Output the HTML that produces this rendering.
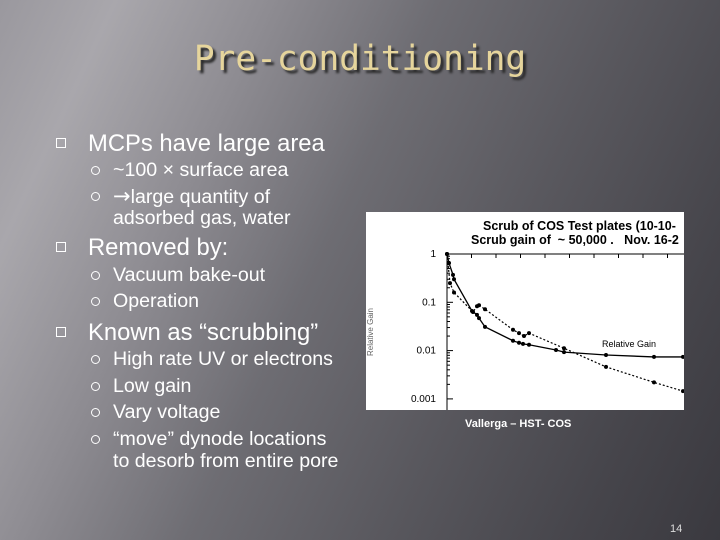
<!DOCTYPE html>
<html><head><meta charset="utf-8"><style>
html,body{margin:0;padding:0}
body{width:720px;height:540px;position:relative;overflow:hidden;font-family:"Liberation Sans",sans-serif;
background:linear-gradient(115deg,#9a989e 0%,#a9a7ac 12%,#8e8c92 28%,#6e6d73 45%,#59585e 65%,#46454b 85%,#3a393f 100%);}
.t{position:absolute;color:#fff;white-space:nowrap;line-height:1}
.l1{font-size:23.8px;left:88px}
.l2{font-size:19.6px;left:113px}
.sq{position:absolute;left:56px;width:8px;height:8px;border:1.5px solid #fff}
.ci{position:absolute;left:91px;width:7px;height:7px;border:1.5px solid #fff;border-radius:50%}
</style></head><body>
<div class="t" style="left:0;width:720px;text-align:center;top:42px;font-family:'DejaVu Sans Mono','DejaVu Sans',monospace;font-size:34.5px;color:#e6d59c;text-shadow:3px 3px 2px #2a2a2a">Pre-conditioning</div>

<div class="sq" style="top:138px"></div>
<div class="t l1" style="top:132px">MCPs have large area</div>
<div class="ci" style="top:166px"></div>
<div class="t l2" style="top:161px">~100 × surface area</div>
<div class="ci" style="top:192px"></div>
<div class="t l2" style="top:187px"><span style="font-family:'DejaVu Sans',sans-serif;font-size:21px;line-height:0.9">→</span>large quantity of</div>
<div class="t l2" style="top:209px">adsorbed gas, water</div>

<div class="sq" style="top:242px"></div>
<div class="t l1" style="top:236px">Removed by:</div>
<div class="ci" style="top:271px"></div>
<div class="t l2" style="top:266px">Vacuum bake-out</div>
<div class="ci" style="top:297px"></div>
<div class="t l2" style="top:292px">Operation</div>

<div class="sq" style="top:327px"></div>
<div class="t l1" style="top:321px">Known as “scrubbing”</div>
<div class="ci" style="top:355px"></div>
<div class="t l2" style="top:350px">High rate UV or electrons</div>
<div class="ci" style="top:382px"></div>
<div class="t l2" style="top:377px">Low gain</div>
<div class="ci" style="top:408px"></div>
<div class="t l2" style="top:403px">Vary voltage</div>
<div class="ci" style="top:435px"></div>
<div class="t l2" style="top:430px">“move” dynode locations</div>
<div class="t l2" style="top:452px">to desorb from entire pore</div>

<svg id="chart" style="position:absolute;left:366px;top:212px" width="318" height="198"></svg>

<div class="t" style="left:465px;top:419px;font-size:11px;font-weight:bold">Vallerga – HST- COS</div>
<div class="t" style="left:670px;top:524px;font-size:11px;color:#ddd">14</div>

<script>
const solidX=[0,2,6,7,25,30,32,38,66,72,76,82,109,117,159,207,236];
const solidY=[1,0.65,0.37,0.30,0.066,0.055,0.047,0.031,0.016,0.0145,0.0138,0.0132,0.0103,0.0093,0.0081,0.0074,0.0074];
const dotX=[0,3,7,26,30,32,38,66,72,77,82,117,159,207,236];
const dotY=[1,0.25,0.16,0.063,0.083,0.087,0.072,0.027,0.023,0.020,0.023,0.0112,0.0046,0.0022,0.00145];
const yTicks=[1,0.1,0.01,0.001];
const yTickLabels=["1","0.1","0.01","0.001"];
const NS="http://www.w3.org/2000/svg";
const svg=document.getElementById('chart');
const x0=81,yTop=42,dec=48.3;
function sx(v){return x0+v;}
function sy(v){return yTop-Math.log10(v)*dec;}
function mk(tag,attrs){const e=document.createElementNS(NS,tag);for(const k in attrs)e.setAttribute(k,attrs[k]);svg.appendChild(e);return e;}
const bg=mk('rect',{x:0,y:0,width:318,height:198,fill:'#fff'});


const t1=mk('text',{x:117,y:18,'font-size':'12.5','font-weight':'bold','font-family':'Liberation Sans, sans-serif',fill:'#000'});
t1.textContent='Scrub of COS Test plates (10-10-';


const t2=mk('text',{x:105,y:32,'font-size':'12.5','font-weight':'bold','font-family':'Liberation Sans, sans-serif',fill:'#000','style':'white-space:pre'});
t2.textContent='Scrub gain of  ~ 50,000 .   Nov. 16-2';


const ax=mk('path',{d:`M${x0} ${yTop} V198 M${x0} ${yTop} H318`,stroke:'#000','stroke-width':1,fill:'none'});


for(let i=1;i<10;i++){const tx=mk('line',{x1:x0+i*24.5,x2:x0+i*24.5,y1:yTop,y2:yTop+4,stroke:'#000'});

}
yTicks.forEach((v,i)=>{
  const y=sy(v);
  const tk=mk('line',{x1:x0,x2:x0+6,y1:y,y2:y,stroke:'#000'});
  
  
  for(let m=2;m<10&&v/10*m<1.01&&i<3;m++){const yy=sy(v/10*m);const mt=mk('line',{x1:x0,x2:x0+3,y1:yy,y2:yy,stroke:'#000'});
  
  }
  const lb=mk('text',{x:x0-11,y:y+3,'font-size':'10','text-anchor':'end','font-family':'Liberation Sans, sans-serif',fill:'#000'});
  lb.textContent=yTickLabels[i];
  
  
});
const yl=mk('text',{x:0,y:0,transform:'translate(7,120) rotate(-90)','font-size':'8','text-anchor':'middle','font-family':'Liberation Sans, sans-serif',fill:'#666'});
yl.textContent='Relative Gain';


function series(xs,ys,dash,name){
  const d=xs.map((x,i)=>(i?'L':'M')+sx(x)+' '+sy(ys[i])).join(' ');
  const p=mk('path',{d:d,stroke:'#000','stroke-width':dash?1.2:1.3,fill:'none','stroke-dasharray':dash?'2 2':'none'});
  
  
  xs.forEach((x,i)=>{const c=mk('circle',{cx:sx(x),cy:sy(ys[i]),r:2,fill:'#000'});
  
  });
}
series(solidX,solidY,false,'relative-gain');
series(dotX,dotY,true,'dotted-series');
const lg=mk('text',{x:236,y:135,'font-size':'9','font-family':'Liberation Sans, sans-serif',fill:'#000'});
lg.textContent='Relative Gain';


</script>
</body></html>
